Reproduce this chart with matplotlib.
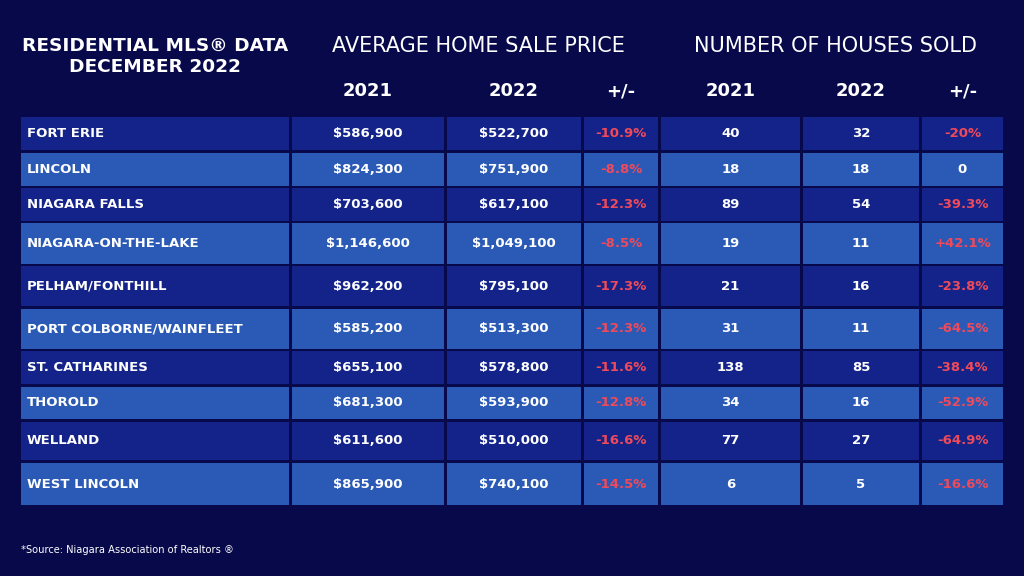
import matplotlib.pyplot as plt
from matplotlib.patches import Rectangle

# table data (December 2022, Niagara region)
areas = ["FORT ERIE", "LINCOLN", "NIAGARA FALLS", "NIAGARA-ON-THE-LAKE",
         "PELHAM/FONTHILL", "PORT COLBORNE/WAINFLEET", "ST. CATHARINES",
         "THOROLD", "WELLAND", "WEST LINCOLN"]
price_2021 = [586900, 824300, 703600, 1146600, 962200, 585200, 655100, 681300, 611600, 865900]
price_2022 = [522700, 751900, 617100, 1049100, 795100, 513300, 578800, 593900, 510000, 740100]
price_change = [-10.9, -8.8, -12.3, -8.5, -17.3, -12.3, -11.6, -12.8, -16.6, -14.5]
sold_2021 = [40, 18, 89, 19, 21, 31, 138, 34, 77, 6]
sold_2022 = [32, 18, 54, 11, 16, 11, 85, 16, 27, 5]
sold_change = [-20, 0, -39.3, 42.1, -23.8, -64.5, -38.4, -52.9, -64.9, -16.6]
col_headers = ["2021", "2022", "+/-", "2021", "2022", "+/-"]

# layout (pixels)
col_edges = [(21, 289), (292, 444), (447, 581), (584, 658), (661, 800), (803, 919), (922, 1003)]
row_edges = [(117, 150), (153, 186), (188, 221), (223, 264), (266, 306),
             (309, 349), (351, 384), (387, 419), (422, 460), (463, 505)]

BG = "#07094a"
DARK = "#13238a"
LIGHT = "#2a5ab5"
RED = "#f04a5a"
FONT = "DejaVu Sans"


def money(v):
    return "${:,}".format(v)


def pct(v):
    if v == 0:
        return "0"
    return "{:+g}%".format(v)


fig = plt.figure(figsize=(10.24, 5.76), dpi=100)
fig.patch.set_facecolor(BG)
ax = fig.add_axes([0, 0, 1, 1])
ax.set_xlim(0, 1024)
ax.set_ylim(576, 0)
ax.axis("off")

# titles
ax.text(155, 46, "RESIDENTIAL MLS® DATA", color="white", fontsize=13.3,
        fontweight="bold", ha="center", va="center", family=FONT)
ax.text(155, 67, "DECEMBER 2022", color="white", fontsize=13.3,
        fontweight="bold", ha="center", va="center", family=FONT)
ax.text(478, 46, "AVERAGE HOME SALE PRICE", color="white", fontsize=15,
        ha="center", va="center", family=FONT)
ax.text(836, 46, "NUMBER OF HOUSES SOLD", color="white", fontsize=15,
        ha="center", va="center", family=FONT)

for (x0, x1), h in zip(col_edges[1:], col_headers):
    ax.text((x0 + x1) / 2, 91, h, color="white", fontsize=13, fontweight="bold",
            ha="center", va="center", family=FONT)

for i, name in enumerate(areas):
    y0, y1 = row_edges[i]
    yc = (y0 + y1) / 2
    fill = DARK if i % 2 == 0 else LIGHT
    for x0, x1 in col_edges:
        ax.add_patch(Rectangle((x0, y0), x1 - x0, y1 - y0, facecolor=fill,
                               edgecolor="none"))
    cells = [
        (money(price_2021[i]), "white"),
        (money(price_2022[i]), "white"),
        (pct(price_change[i]), RED),
        (str(sold_2021[i]), "white"),
        (str(sold_2022[i]), "white"),
        (pct(sold_change[i]), RED if sold_change[i] != 0 else "white"),
    ]
    ax.text(col_edges[0][0] + 6, yc, name, color="white", fontsize=9.5,
            fontweight="bold", ha="left", va="center", family=FONT)
    for (x0, x1), (txt, c) in zip(col_edges[1:], cells):
        ax.text((x0 + x1) / 2, yc, txt, color=c, fontsize=9.5, fontweight="bold",
                ha="center", va="center", family=FONT)

ax.text(21, 550, "*Source: Niagara Association of Realtors ®", color="white",
        fontsize=7.1, ha="left", va="center", family=FONT)

fig.savefig("out.png", dpi=100, facecolor=BG)
